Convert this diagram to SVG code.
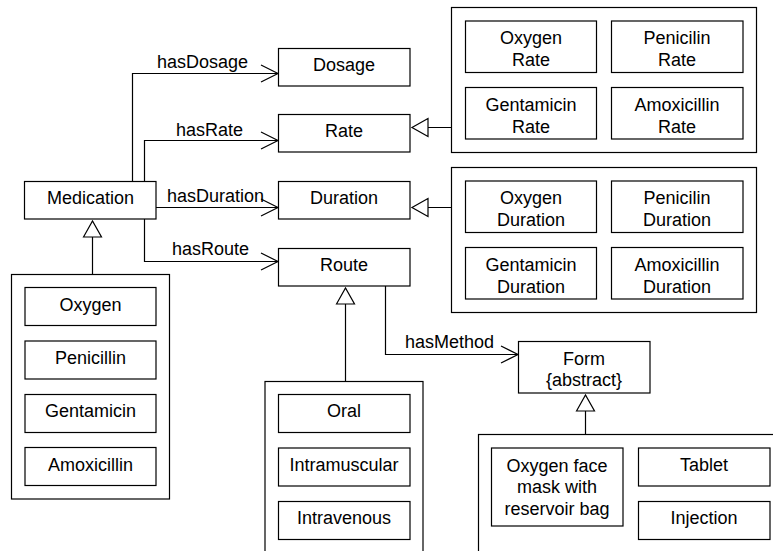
<svg xmlns="http://www.w3.org/2000/svg" width="773" height="551" viewBox="0 0 773 551">
<defs>
<style>
.box{fill:#fff;stroke:#000;stroke-width:1.2}
.grp{fill:#fff;stroke:#000;stroke-width:1.2}
.t{font-family:"Liberation Sans",Arial,sans-serif;font-size:18px;fill:#000;text-anchor:middle}
.lbl{font-family:"Liberation Sans",Arial,sans-serif;font-size:18px;fill:#000}
.ln{fill:none;stroke:#000;stroke-width:1.2}
</style>
<marker id="open" markerUnits="userSpaceOnUse" markerWidth="20" markerHeight="20" viewBox="-18 -10 20 20" refX="0" refY="0" orient="auto">
<path d="M-17,-8.5 L0,0 L-17,8.5" fill="none" stroke="#000" stroke-width="1.2"/>
</marker>
<marker id="tri" markerUnits="userSpaceOnUse" markerWidth="20" markerHeight="22" viewBox="-18 -11 20 22" refX="0" refY="0" orient="auto">
<path d="M-16,-9 L0,0 L-16,9 Z" fill="#fff" stroke="#000" stroke-width="1.2"/>
</marker>
</defs>
<rect width="773" height="551" fill="#fff"/>

<g id="connectors">
<path class="ln" d="M132.5,181 V73.5 H278" marker-end="url(#open)"/>
<path class="ln" d="M144.5,181 V140.5 H278" marker-end="url(#open)"/>
<path class="ln" d="M156,207.5 H278" marker-end="url(#open)"/>
<path class="ln" d="M144.5,219 V261.5 H278" marker-end="url(#open)"/>
<path class="ln" d="M385.5,286 V354.5 H518" marker-end="url(#open)"/>
<path class="ln" d="M92.5,274 V221" marker-end="url(#tri)"/>
<path class="ln" d="M451,127.5 H412" marker-end="url(#tri)"/>
<path class="ln" d="M451,207.5 H412" marker-end="url(#tri)"/>
<path class="ln" d="M345.5,381 V288" marker-end="url(#tri)"/>
<path class="ln" d="M585.5,434 V395" marker-end="url(#tri)"/>
<text class="lbl" x="157" y="68">hasDosage</text>
<text class="lbl" x="176" y="135.5">hasRate</text>
<text class="lbl" x="167" y="202">hasDuration</text>
<text class="lbl" x="172" y="255">hasRoute</text>
<text class="lbl" x="405" y="348">hasMethod</text>
</g>

<g id="medication"><rect class="box" x="24.5" y="181.5" width="131.5" height="37.5"/><text class="t" x="90.5" y="204">Medication</text></g>
<g id="dosage"><rect class="box" x="278.5" y="48.5" width="131.5" height="37.5"/><text class="t" x="344" y="71">Dosage</text></g>
<g id="rate"><rect class="box" x="278.5" y="114.5" width="131.5" height="37.5"/><text class="t" x="344" y="137">Rate</text></g>
<g id="duration"><rect class="box" x="278.5" y="181.5" width="131.5" height="37.5"/><text class="t" x="344" y="204">Duration</text></g>
<g id="route"><rect class="box" x="278.5" y="248.5" width="131.5" height="37.5"/><text class="t" x="344" y="271">Route</text></g>
<g id="form"><rect class="box" x="518.5" y="341.5" width="131.5" height="51.5"/><text class="t" x="584" y="364.5">Form</text><text class="t" x="584" y="385.5">{abstract}</text></g>

<g id="rate-group">
<rect class="grp" x="451.5" y="7.5" width="305" height="145"/>
<g id="oxygen-rate"><rect class="box" x="465.5" y="21" width="131" height="51.5"/><text class="t" x="531" y="44">Oxygen</text><text class="t" x="531" y="66">Rate</text></g>
<g id="penicilin-rate"><rect class="box" x="611.5" y="21" width="131.5" height="51.5"/><text class="t" x="677" y="44">Penicilin</text><text class="t" x="677" y="66">Rate</text></g>
<g id="gentamicin-rate"><rect class="box" x="465.5" y="87.5" width="131" height="51.5"/><text class="t" x="531" y="110.5">Gentamicin</text><text class="t" x="531" y="132.5">Rate</text></g>
<g id="amoxicillin-rate"><rect class="box" x="611.5" y="87.5" width="131.5" height="51.5"/><text class="t" x="677" y="110.5">Amoxicillin</text><text class="t" x="677" y="132.5">Rate</text></g>
</g>

<g id="duration-group">
<rect class="grp" x="451.5" y="167.5" width="305" height="145"/>
<g id="oxygen-duration"><rect class="box" x="465.5" y="181" width="131" height="51.5"/><text class="t" x="531" y="204">Oxygen</text><text class="t" x="531" y="226">Duration</text></g>
<g id="penicilin-duration"><rect class="box" x="611.5" y="181" width="131.5" height="51.5"/><text class="t" x="677" y="204">Penicilin</text><text class="t" x="677" y="226">Duration</text></g>
<g id="gentamicin-duration"><rect class="box" x="465.5" y="247.5" width="131" height="51.5"/><text class="t" x="531" y="270.5">Gentamicin</text><text class="t" x="531" y="292.5">Duration</text></g>
<g id="amoxicillin-duration"><rect class="box" x="611.5" y="247.5" width="131.5" height="51.5"/><text class="t" x="677" y="270.5">Amoxicillin</text><text class="t" x="677" y="292.5">Duration</text></g>
</g>

<g id="medication-group">
<rect class="grp" x="11.5" y="274.5" width="158" height="224.5"/>
<g id="oxygen"><rect class="box" x="25" y="287.5" width="131" height="38"/><text class="t" x="90.5" y="310.5">Oxygen</text></g>
<g id="penicillin"><rect class="box" x="25" y="341" width="131" height="38"/><text class="t" x="90.5" y="363.5">Penicillin</text></g>
<g id="gentamicin"><rect class="box" x="25" y="394.5" width="131" height="38"/><text class="t" x="90.5" y="417">Gentamicin</text></g>
<g id="amoxicillin"><rect class="box" x="25" y="447.5" width="131" height="38"/><text class="t" x="90.5" y="470.5">Amoxicillin</text></g>
</g>

<g id="route-group">
<rect class="grp" x="265" y="381.5" width="158" height="200"/>
<g id="oral"><rect class="box" x="278.5" y="394.5" width="131.5" height="38"/><text class="t" x="344" y="417">Oral</text></g>
<g id="intramuscular"><rect class="box" x="278.5" y="448" width="131.5" height="38"/><text class="t" x="344" y="470.5">Intramuscular</text></g>
<g id="intravenous"><rect class="box" x="278.5" y="501.5" width="131.5" height="38"/><text class="t" x="344" y="524">Intravenous</text></g>
</g>

<g id="form-group">
<rect class="grp" x="478.5" y="434.5" width="400" height="200"/>
<g id="oxygen-face-mask"><rect class="box" x="491.5" y="448" width="131.5" height="78"/><text class="t" x="557" y="471.5">Oxygen face</text><text class="t" x="557" y="493">mask with</text><text class="t" x="557" y="514.5">reservoir bag</text></g>
<g id="tablet"><rect class="box" x="638.5" y="448" width="131.5" height="38"/><text class="t" x="704" y="470.5">Tablet</text></g>
<g id="injection"><rect class="box" x="638.5" y="501.5" width="131.5" height="38"/><text class="t" x="704" y="524">Injection</text></g>
</g>
</svg>
